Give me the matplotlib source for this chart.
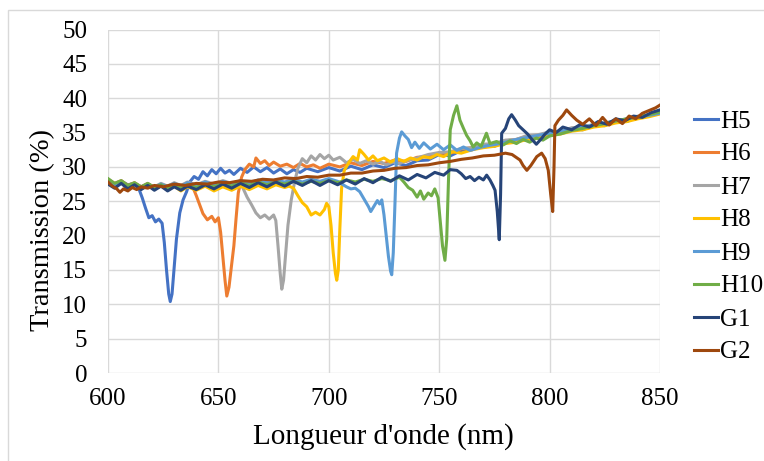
import matplotlib.pyplot as plt
import matplotlib.patches as mpatches

plt.rcParams['font.family'] = ['Liberation Serif', 'DejaVu Serif']

######################################################################
# donnees (longueur d'onde nm, transmission %) #

h5_x = [600, 603, 606, 609, 612, 614, 615.5, 617, 618.5, 620, 621.5, 623, 624.5, 625.5, 626.5, 627.5, 628.2, 629, 630, 631,
        632.5, 634, 635.6, 637, 639, 641, 643, 645, 647, 649, 651, 653, 655, 657, 660, 663, 666, 669, 672, 675, 678, 681,
        684, 687, 690, 695, 700, 705, 710, 715, 720, 725, 730, 735, 740, 745, 750, 755, 760, 765, 770, 775, 780, 785, 790,
        795, 800, 805, 810, 815, 820, 825, 830, 835, 840, 845, 850]
h5_y = [27.8, 27.2, 27.9, 27.4, 27.6, 26.8, 25.5, 24.0, 22.6, 22.9, 22.0, 22.4, 21.8, 19.0, 15.0, 11.5, 10.4, 11.5, 15.5, 19.5,
        23.3, 25.2, 26.4, 27.8, 28.6, 28.2, 29.3, 28.7, 29.6, 29.0, 29.8, 29.1, 29.5, 28.9, 29.8, 29.2, 30.0, 29.3, 29.9, 29.1,
        29.7, 29.0, 29.6, 29.2, 29.8, 29.3, 29.9, 29.4, 30.1, 29.6, 30.3, 29.9, 30.6, 30.2, 30.9, 31.0, 31.8, 31.6, 32.4, 32.5,
        33.2, 33.0, 33.7, 33.8, 34.4, 34.3, 34.9, 35.0, 35.6, 35.4, 36.1, 36.0, 36.7, 36.6, 37.3, 37.4, 38.0]

h6_x = [600, 603, 606, 609, 612, 615, 618, 621, 624, 627, 630, 633, 636, 638.5, 640, 641.5, 643, 645, 647, 648.5, 650, 651,
        652, 653, 653.8, 654.8, 656, 657, 658, 659, 660.5, 662, 664, 666, 667, 669, 671, 673, 675, 678, 681, 684, 687, 690,
        693, 696, 700, 705, 710, 715, 720, 725, 730, 735, 740, 745, 750, 755, 760, 765, 770, 775, 780, 785, 790, 795, 800,
        805, 810, 815, 820, 825, 830, 835, 840, 845, 850]
h6_y = [28.2, 27.6, 28.0, 27.3, 27.7, 27.1, 27.6, 27.0, 27.5, 27.1, 27.6, 27.2, 27.7, 27.0, 25.8, 24.5, 23.2, 22.3, 22.8, 22.0,
        22.6, 20.5, 17.0, 13.5, 11.2, 12.5, 15.8, 18.5, 22.5, 26.2, 28.5, 29.6, 30.4, 30.0, 31.3, 30.5, 30.9, 30.2, 30.7, 30.1,
        30.4, 29.9, 30.5, 30.0, 30.3, 29.8, 30.4, 30.0, 30.6, 30.2, 30.8, 30.5, 31.0, 30.8, 31.4, 31.5, 32.0, 32.0, 32.6, 32.8,
        33.2, 33.3, 33.8, 34.0, 34.5, 34.6, 35.0, 35.2, 35.6, 35.7, 36.1, 36.3, 36.7, 36.9, 37.3, 37.5, 37.9]

h7_x = [600, 603, 606, 609, 612, 615, 618, 621, 624, 627, 630, 633, 636, 640, 644, 648, 652, 656, 659, 661, 663, 665, 667,
        669, 671, 673, 675, 676, 677, 678, 678.7, 679.5, 680.5, 681.5, 683, 684.5, 686, 688, 690, 692, 694, 696, 698, 700,
        702, 705, 708, 711, 714, 717, 720, 723, 726, 729, 732, 736, 740, 745, 750, 755, 760, 765, 770, 775, 780, 785, 790,
        795, 800, 805, 810, 815, 820, 825, 830, 835, 840, 845, 850]
h7_y = [27.6, 27.1, 27.7, 27.2, 27.5, 27.0, 27.5, 27.1, 27.6, 27.2, 27.7, 27.3, 27.8, 27.4, 27.9, 27.5, 28.0, 27.6, 27.9, 27.0,
        25.6, 24.5, 23.3, 22.6, 23.0, 22.4, 23.0, 22.2, 18.5, 14.5, 12.2, 13.5, 17.5, 21.5, 25.2, 27.8, 29.8, 31.2, 30.6, 31.6,
        31.0, 31.8, 31.2, 31.7, 31.0, 31.4, 30.6, 31.1, 30.5, 30.9, 30.4, 30.8, 30.3, 30.7, 30.5, 31.0, 31.3, 31.8, 32.1, 32.2,
        32.7, 32.8, 33.3, 33.4, 33.9, 34.0, 34.6, 34.7, 35.1, 35.2, 35.7, 35.8, 36.2, 36.3, 36.8, 36.9, 37.4, 37.5, 38.0]

h8_x = [600, 603, 606, 609, 612, 615, 618, 621, 624, 627, 630, 633, 636, 640, 644, 648, 652, 656, 660, 664, 668, 672, 676,
        680, 682, 684, 686, 688, 690, 692, 694, 696, 698, 699, 700, 701, 702, 703, 703.6, 704.3, 705, 705.8, 707, 709, 711,
        713, 714, 716, 718, 720, 722, 725, 728, 731, 734, 737, 740, 743, 746, 749, 752, 756, 760, 765, 770, 775, 780, 785,
        790, 795, 800, 805, 810, 815, 820, 825, 830, 835, 840, 845, 850]
h8_y = [28.0, 27.3, 27.8, 27.0, 27.5, 26.8, 27.4, 26.7, 27.3, 26.6, 27.2, 26.5, 27.1, 26.6, 27.2, 26.5, 27.1, 26.6, 27.2, 26.7,
        27.3, 26.8, 27.4, 27.0, 27.2, 26.9, 25.8, 24.8, 24.2, 23.0, 23.4, 23.0, 23.8, 24.7, 24.2, 21.5, 17.5, 14.5, 13.5, 15.0,
        21.0, 26.9, 29.5, 30.6, 31.5, 31.0, 32.5, 31.8, 31.0, 31.6, 30.9, 31.3, 30.7, 31.2, 30.8, 31.3, 31.0, 31.5, 31.3, 31.8,
        31.5, 32.2, 32.0, 32.5, 32.8, 33.0, 33.4, 33.6, 34.0, 34.2, 34.6, 34.8, 35.2, 35.4, 35.8, 36.0, 36.4, 36.6, 37.0, 37.3,
        37.7]

h9_x = [600, 603, 606, 609, 612, 615, 618, 621, 624, 627, 630, 633, 636, 640, 644, 648, 652, 656, 660, 664, 668, 672, 676,
        680, 684, 688, 692, 696, 700, 704, 708, 710, 712, 714, 716, 718, 719, 720.5, 722, 723, 724, 725, 726, 727, 728,
        728.5, 729.2, 730, 730.7, 732, 733, 734.5, 736, 737.5, 739, 741, 743, 746, 749, 752, 755, 758, 761, 764, 768, 772,
        776, 780, 785, 790, 795, 800, 805, 810, 815, 820, 825, 830, 835, 840, 845, 850]
h9_y = [27.9, 27.4, 27.8, 27.2, 27.6, 27.1, 27.5, 27.0, 27.5, 27.1, 27.6, 27.2, 27.7, 27.3, 27.8, 27.4, 27.9, 27.5, 28.0, 27.6,
        28.1, 27.7, 28.1, 27.8, 28.2, 27.8, 28.2, 27.9, 28.3, 27.9, 27.1, 26.8, 26.9, 26.4, 25.3, 24.2, 23.5, 24.3, 25.1, 24.6,
        25.2, 23.0, 20.0, 17.0, 14.8, 14.3, 17.5, 25.0, 32.0, 34.2, 35.1, 34.5, 34.0, 32.8, 33.6, 32.7, 33.5, 32.6, 33.3, 32.5,
        33.2, 32.4, 32.9, 32.4, 32.8, 33.1, 33.3, 33.6, 34.0, 34.3, 34.6, 34.9, 35.2, 35.5, 35.8, 36.1, 36.4, 36.7, 37.0, 37.3,
        37.5, 37.8]

h10_x = [600, 603, 606, 609, 612, 615, 618, 621, 624, 627, 630, 633, 636, 640, 644, 648, 652, 656, 660, 664, 668, 672, 676,
         680, 684, 688, 692, 696, 700, 704, 708, 712, 716, 720, 724, 728, 732, 734, 736, 738, 740, 741.5, 743, 745, 746.5,
         748, 749.5, 750.5, 751.5, 752.6, 753.4, 754.2, 755, 756.5, 758, 759.4, 761, 762.4, 764, 765.4, 767, 769, 771.4, 773,
         776, 779, 782, 785, 788, 791, 794, 797, 800, 805, 810, 815, 820, 825, 830, 835, 840, 845, 850]
h10_y = [28.3, 27.6, 28.0, 27.3, 27.7, 27.1, 27.6, 27.0, 27.4, 26.9, 27.3, 26.9, 27.4, 27.0, 27.5, 27.1, 27.6, 27.2, 27.7, 27.3,
         27.8, 27.4, 27.8, 27.5, 27.9, 27.5, 27.9, 27.6, 28.0, 27.7, 28.1, 27.8, 28.2, 27.9, 28.3, 28.0, 28.5, 27.8, 27.0, 26.6,
         25.6, 26.5, 25.3, 26.2, 25.8, 26.8, 25.5, 22.0, 18.5, 16.4, 19.5, 28.0, 35.4, 37.5, 38.9, 36.8, 35.6, 34.6, 33.8, 32.9,
         33.5, 33.0, 34.9, 33.4, 33.7, 33.2, 33.8, 33.4, 34.0, 33.6, 34.2, 33.9, 34.5, 34.8, 35.3, 35.6, 36.0, 36.3, 36.7, 37.0,
         37.3, 37.6, 38.0]

g1_x = [600, 603, 606, 609, 612, 615, 618, 621, 624, 627, 630, 633, 636, 640, 644, 648, 652, 656, 660, 664, 668, 672, 676,
        680, 684, 688, 692, 696, 700, 704, 708, 712, 716, 720, 724, 728, 732, 736, 740, 744, 748, 752, 755, 758, 760, 762,
        764, 766, 768, 770, 771.5, 773, 774.3, 775.3, 776.3, 777.2, 777.8, 778.3, 780, 781.5, 782.8, 784.5, 786, 788, 790,
        792, 794, 796, 798, 800, 803, 806, 810, 814, 818, 822, 826, 830, 834, 838, 842, 846, 850]
g1_y = [27.5, 26.9, 27.6, 26.8, 27.4, 26.7, 27.3, 26.6, 27.2, 26.5, 27.1, 26.6, 27.2, 26.7, 27.4, 26.8, 27.5, 26.9, 27.6, 27.0,
        27.7, 27.1, 27.8, 27.2, 27.9, 27.3, 28.0, 27.3, 28.0, 27.4, 28.1, 27.5, 28.3, 27.7, 28.5, 27.9, 28.7, 28.1, 28.9, 28.4,
        29.2, 28.8, 29.6, 29.5, 29.0, 28.3, 28.6, 28.0, 28.5, 28.1, 28.8, 28.1, 27.3, 26.6, 23.5, 19.4, 26.0, 34.9, 35.6, 37.0,
        37.6, 36.8, 36.0, 35.4, 34.8, 34.0, 33.3, 34.0, 34.8, 35.4, 35.0, 35.8, 35.4, 36.2, 35.8, 36.6, 36.2, 37.0, 36.7, 37.4,
        37.2, 37.9, 38.3]

g2_x = [600, 602, 604, 605.4, 607, 609, 611, 613, 615, 618, 621, 625, 630, 635, 640, 645, 650, 655, 660, 665, 670, 675, 680,
        685, 690, 695, 700, 705, 710, 715, 720, 725, 730, 735, 740, 745, 750, 755, 760, 765, 770, 775, 780, 783, 786.6, 788,
        789.7, 791.5, 794.2, 796.4, 798, 799.4, 800.5, 801.4, 802, 802.4, 804, 806, 807.7, 810, 812.3, 815, 818, 821, 824,
        827, 830, 833, 836, 839, 842, 845, 848, 850]
g2_y = [27.8, 27.2, 26.8, 26.3, 26.8, 26.5, 27.0, 26.7, 27.1, 26.9, 27.3, 27.1, 27.5, 27.3, 27.6, 27.5, 27.8, 27.7, 28.0, 27.9,
        28.2, 28.1, 28.4, 28.3, 28.6, 28.5, 28.8, 28.8, 29.1, 29.1, 29.4, 29.5, 29.8, 29.9, 30.2, 30.3, 30.6, 30.8, 31.1, 31.3,
        31.6, 31.7, 32.0, 31.8, 31.0, 30.2, 29.5, 30.2, 31.5, 32.0, 31.2, 29.5, 26.0, 23.5, 30.0, 36.0, 36.8, 37.5, 38.3, 37.5,
        36.8, 36.2, 37.0, 36.0, 37.2, 36.1, 37.0, 36.3, 37.4, 37.0, 37.8, 38.2, 38.6, 39.0]

noms = ['H5', 'H6', 'H7', 'H8', 'H9', 'H10', 'G1', 'G2']
series_x = [h5_x, h6_x, h7_x, h8_x, h9_x, h10_x, g1_x, g2_x]
series_y = [h5_y, h6_y, h7_y, h8_y, h9_y, h10_y, g1_y, g2_y]
couleurs = ['#4472C4', '#ED7D31', '#A5A5A5', '#FFC000', '#5B9BD5', '#70AD47', '#264478', '#9E480E']

######################################################################
# figure #
fig = plt.figure(figsize=(7.64, 4.61), dpi=100)
ax = fig.add_axes([108/764, 1 - 373/461, 552/764, 343.5/461])

for x, y, nom, c in zip(series_x, series_y, noms, couleurs):
    ax.plot(x, y, color=c, lw=2.2, label=nom, solid_joinstyle='round')

ax.set_xlim(600, 850)
ax.set_ylim(0, 50)
ax.set_xticks(range(600, 851, 50))
ax.set_yticks(range(0, 51, 5))
ax.grid(True, color='#D9D9D9', lw=1)
ax.set_axisbelow(True)
for s in ax.spines.values():
    s.set_visible(False)
ax.tick_params(length=0, labelsize=18)
ax.tick_params(axis='x', pad=11)
ax.tick_params(axis='y', pad=15)

# titres des axes #
fig.text(383.5/764, 1 - 437/461, "Longueur d'onde (nm)", fontsize=21, ha='center', va='center')
fig.text(43/764, 1 - 230/461, 'Transmission (%)', fontsize=20.5, ha='center', va='center', rotation=90)

# legende #
fig.legend(loc='upper left', bbox_to_anchor=(694/764, 1 - 110/461), frameon=False, fontsize=18,
           handlelength=0.95, handletextpad=0.1, labelspacing=0.42, borderpad=0, borderaxespad=0)

# cadre du graphique #
fig.add_artist(mpatches.Rectangle((8/764, -0.1), 1.2, 1.1 - 10/461, transform=fig.transFigure,
                                  fill=False, edgecolor='#D9D9D9', lw=1, clip_on=False))

fig.savefig('out.png', dpi=100)
